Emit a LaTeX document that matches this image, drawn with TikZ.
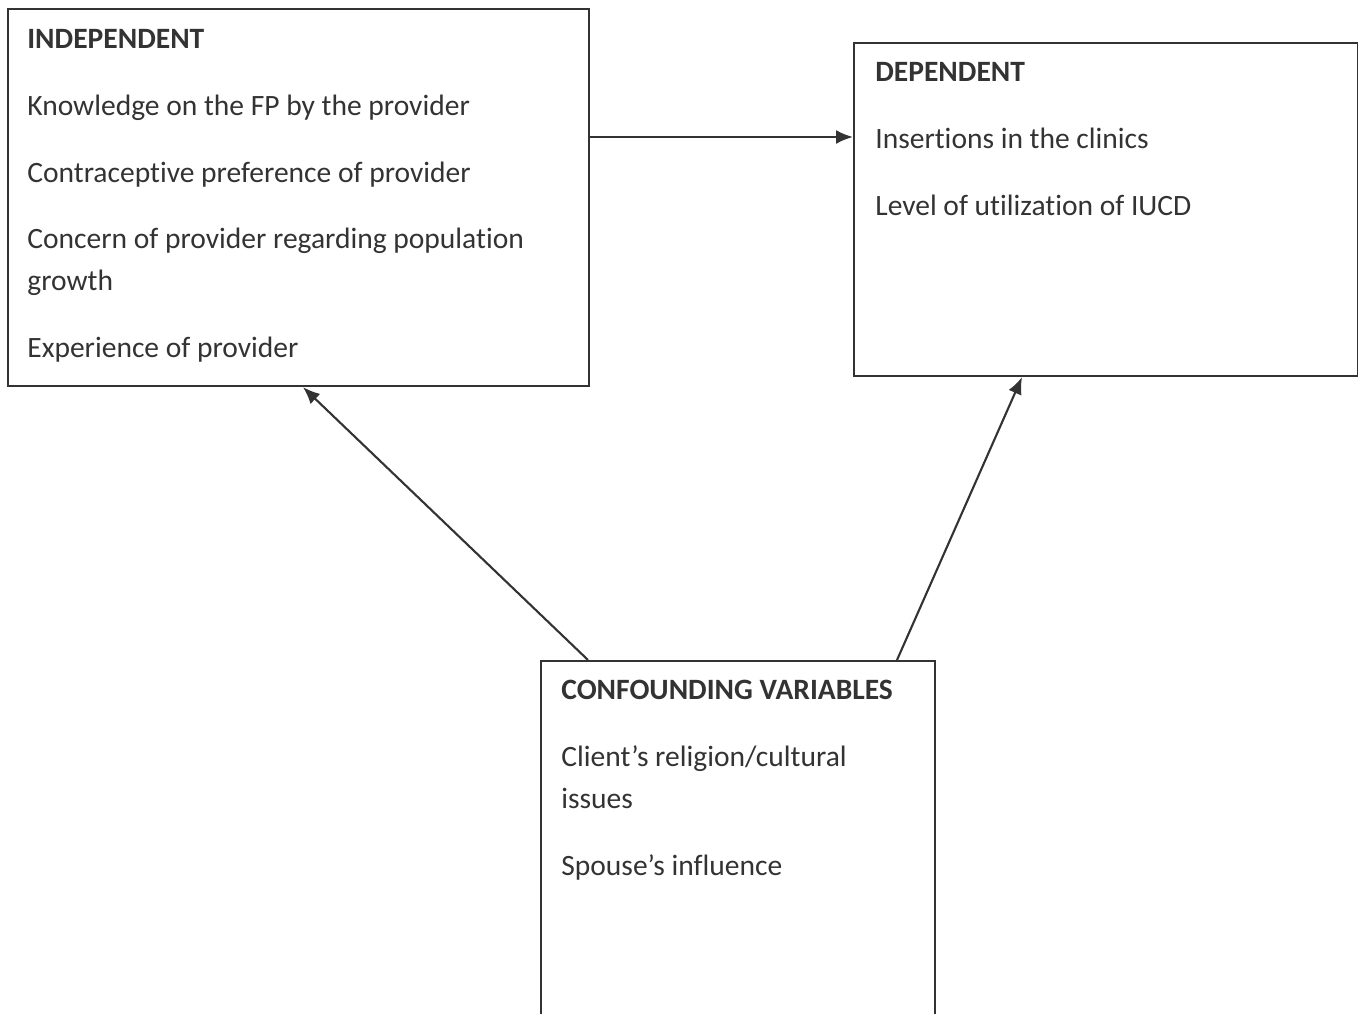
\documentclass[tikz,border=0pt]{standalone}
\usepackage{fontspec}
\setmainfont[Ligatures=NoCommon]{Carlito}
\usetikzlibrary{arrows.meta,calc}
\definecolor{ink}{HTML}{333333}

\begin{document}
\begin{tikzpicture}[
	box/.style={rectangle,draw=ink,line width=1.2pt,anchor=north west,inner sep=0pt},
	txt/.style={anchor=north west,align=left,inner sep=0pt,text=ink,font=\fontsize{16.8}{23.8}\selectfont},
	link/.style={>={Latex[length=3.4mm,width=2.8mm]},draw=ink,line width=1.2pt}
]

	\clip (0,0) rectangle (27.16,-20.26);

	\node[box,minimum width=11.62cm,minimum height=7.54cm] (indep) at (0.14,-0.16) {};
	\node[box,minimum width=10.08cm,minimum height=6.66cm] (dep) at (17.06,-0.84) {};
	\node[box,minimum width=7.88cm,minimum height=7.5cm] (conf) at (10.8,-13.2) {};

	\node[txt] (indeptxt) at ($(indep.north west)+(0.4,-0.42)$) {\textbf{INDEPENDENT}\\[14.2pt]
		Knowledge on the FP by the provider\\[14.2pt]
		Contraceptive preference of provider\\[14.2pt]
		Concern of provider regarding population\\
		growth\\[14.2pt]
		Experience of provider};
	\node[txt] (deptxt) at ($(dep.north west)+(0.44,-0.4)$) {\textbf{DEPENDENT}\\[14.2pt]
		Insertions in the clinics\\[14.2pt]
		Level of utilization of IUCD};
	\node[txt] (conftxt) at ($(conf.north west)+(0.42,-0.4)$) {\textbf{CONFOUNDING VARIABLES}\\[14.2pt]
		Client’s religion/cultural\\
		issues\\[14.2pt]
		Spouse’s influence};

	\draw[link,->] (indep.east |- 0,-2.74) -- (dep.west |- 0,-2.74);
	\draw[link,->] ($(conf.north west)+(0.96,0)$) -- ($(indep.south west)+(5.92,0)$);
	\draw[link,->] ($(conf.north west)+(7.14,0)$) -- ($(dep.south west)+(3.38,0)$);

\end{tikzpicture}
\end{document}
